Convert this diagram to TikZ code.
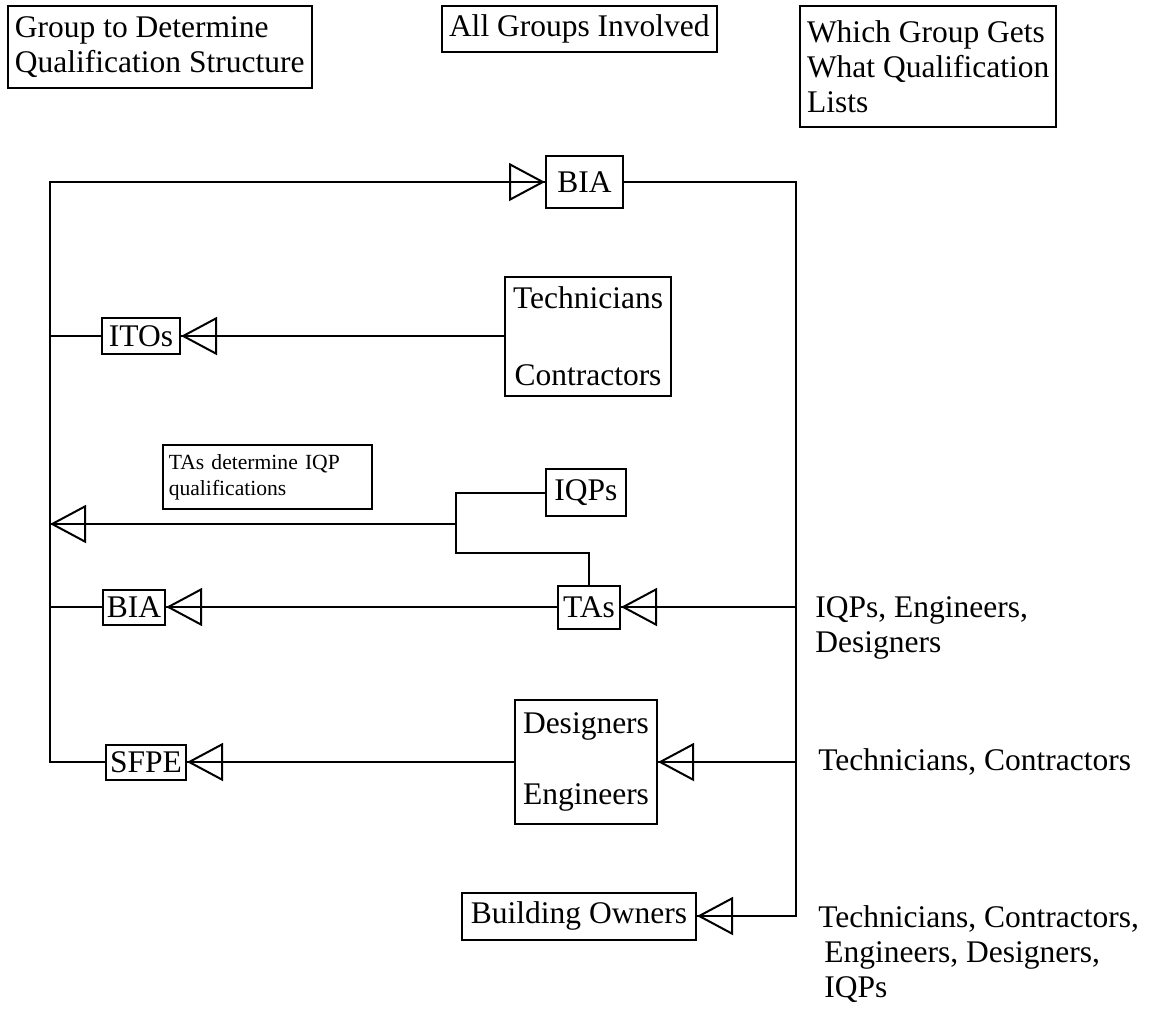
\documentclass[tikz,border=0pt]{standalone}
\usepackage{fontspec}
\setmainfont{Liberation Serif}
\usetikzlibrary{arrows.meta,positioning}
\tikzset{
	box/.style={% framed group names
		draw, rectangle,
		line width=1pt,
		inner sep=2pt,
		align=center,
		font=\fontsize{15.75}{17.5}\selectfont
	},
	headbox/.style={% column headings
		box,
		anchor=north west,
		align=left,
		inner xsep=3.5pt
	},
	notebox/.style={
		draw, rectangle,
		line width=0.8pt,
		anchor=north west,
		align=left,
		inner sep=3pt,
		font=\fontsize{10.8}{13}\selectfont
	},
	listtext/.style={
		anchor=north west,
		align=left,
		inner sep=0pt,
		font=\fontsize{15.75}{17.5}\selectfont
	},
	link/.style={line width=1pt},
	into/.style={link, postaction={draw, -{Triangle[open, length=18pt, width=19pt, line width=1pt]}}}
}
\begin{document}
\begin{tikzpicture}[x=0.5pt, y=-0.5pt]
	\useasboundingbox (0,0) rectangle (1152,1008);
	% headings
	\node[headbox, minimum height=41pt] (who) at (7,5) {Group to Determine\\Qualification Structure};
	\node[headbox, minimum height=23pt] (all) at (441,5) {All Groups Involved};
	\node[headbox, minimum height=60.5pt] (lists) at (799,5) {Which Group Gets\\What Qualification\\Lists};
	
	% groups
	\node[box, minimum width=38.5pt, minimum height=26pt] (BIA) at (584.5,182) {BIA};
	\node[box, minimum width=39pt, minimum height=18pt] (ITOs) at (141,336) {ITOs};
	\node[box, minimum width=83pt, minimum height=59.5pt] (TC) at (588,336) {Technicians\\[21pt]Contractors};
	\node[notebox, text width=98.5pt, minimum height=32pt] (note) at (162,444) {TAs determine IQP qualifications};
	\node[box, minimum width=40pt, minimum height=23.5pt] (IQPs) at (586,492.5) {IQPs};
	\node[box, minimum width=31pt, minimum height=21.5pt] (TAs) at (589,607) {TAs};
	\node[box, minimum width=31pt, minimum height=17.5pt] (BIAb) at (134,607) {BIA};
	\node[box, minimum width=71pt, minimum height=62pt] (DE) at (586,762) {Designers\\[18pt]Engineers};
	\node[box, minimum width=40pt, minimum height=17.5pt] (SFPE) at (146,762) {SFPE};
	\node[box, minimum width=117pt, minimum height=23.5pt] (Owners) at (579,916) {Building Owners};
	
	% lists
	\node[listtext] (forTAs) at (815,596) {IQPs, Engineers,\\Designers};
	\node[listtext, anchor=west] (forDE) at (818,762) {Technicians, Contractors};
	\node[listtext] (forOwners) at (818,905) {Technicians, Contractors,\\\hspace*{3pt}Engineers, Designers,\\\hspace*{3pt}IQPs};
	
	% frame
	\coordinate (lefttop) at (50,182);
	\coordinate (rightbot) at (796,916);
	\draw[into] (SFPE.west) -| (lefttop) -- (BIA.west);
	\draw[into] (BIA.east) -| (rightbot) -- (Owners.east);
	
	\draw[link] (ITOs.west) -- (ITOs.west -| lefttop);
	\draw[into] (TC.west) -- (ITOs.east);
	
	\coordinate (fork) at (456,524);
	\draw[link] (IQPs.west) -| (fork) -- ++(0,29) -| (TAs.north);
	\draw[into] (fork) -- (fork -| lefttop);
	
	\draw[link] (BIAb.west) -- (BIAb.west -| lefttop);
	\draw[into] (TAs.west) -- (BIAb.east);
	\draw[into] (TAs.east -| rightbot) -- (TAs.east);
	
	\draw[into] (DE.west) -- (SFPE.east);
	\draw[into] (DE.east -| rightbot) -- (DE.east);
\end{tikzpicture}
\end{document}
